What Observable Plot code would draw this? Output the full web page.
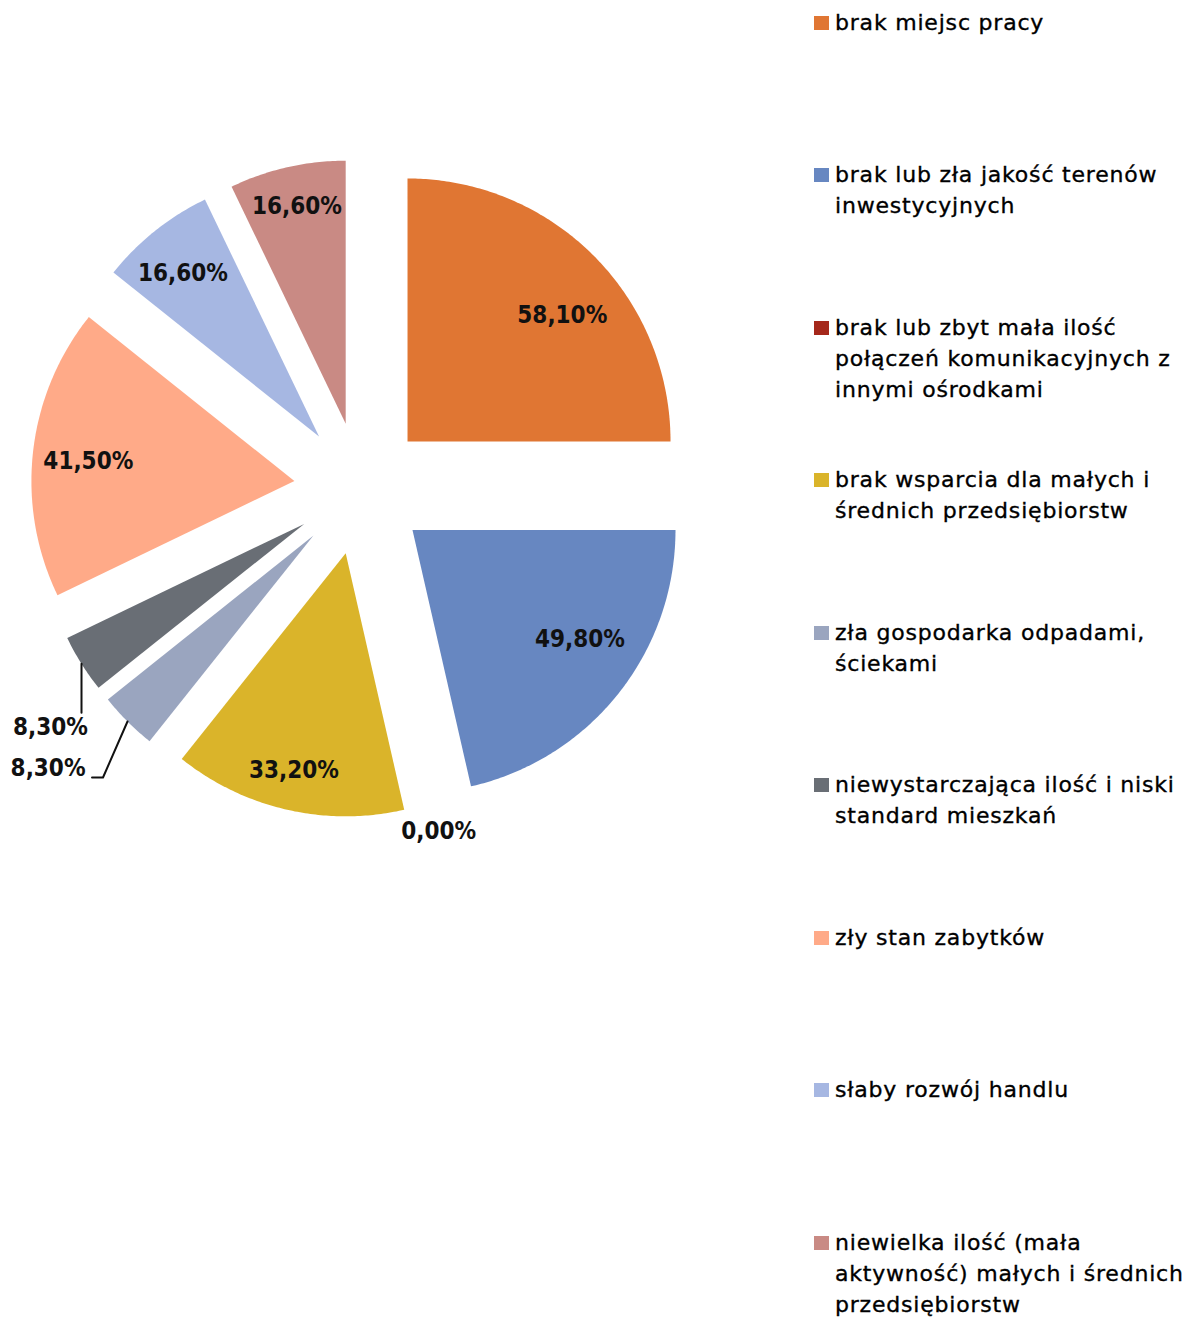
<!DOCTYPE html>
<html><head><meta charset="utf-8">
<script src="https://cdn.jsdelivr.net/npm/d3@7"></script>
<script src="https://cdn.jsdelivr.net/npm/@observablehq/plot@0.6"></script>
<style>
html,body{margin:0;padding:0;background:#fff;}
#wrap{position:relative;width:1192px;height:1320px;overflow:hidden;background:#fff;}
#chart{position:absolute;left:0;top:0;}
.legend-item{position:absolute;left:814px;width:378px;display:flex;align-items:flex-start;font-family:"DejaVu Sans",sans-serif;font-size:22px;line-height:31px;color:#000;letter-spacing:0.8px;-webkit-text-stroke:0.35px #000;}
.swatch{width:15px;height:14px;margin-top:9px;margin-right:6px;flex:none;}
.legend-text{width:357px;}
</style></head><body>
<div id="wrap"><div id="chart"></div><div id="legend"></div></div>
<script>
// ---- data ----
const categories = [
  "brak miejsc pracy",
  "brak lub zła jakość terenów inwestycyjnych",
  "brak lub zbyt mała ilość połączeń komunikacyjnych z innymi ośrodkami",
  "brak wsparcia dla małych i średnich przedsiębiorstw",
  "zła gospodarka odpadami, ściekami",
  "niewystarczająca ilość i niski standard mieszkań",
  "zły stan zabytków",
  "słaby rozwój handlu",
  "niewielka ilość (mała aktywność) małych i średnich przedsiębiorstw"
];
const values = [58.1, 49.8, 0.0, 33.2, 8.3, 8.3, 41.5, 16.6, 16.6];
const colors = ["#E07633", "#6787C1", "#A5281B", "#DAB42A", "#9AA5BF", "#696E75", "#FFAA88", "#A6B7E2", "#C98A84"];

// ---- layout ----
const W = 800, H = 1320;
const cx = 360, cy = 488, R = 263, explode = 66.5;
const insideLabelRadius = 0.8;   // fraction of R from slice apex
const zeroLabelGap = 22;         // outside-end label distance
// small "best fit" nudges for inside labels (pixels)
const labelNudge = {0: [6, 23], 1: [3, -22], 3: [-5, 12], 6: [3, 4], 7: [-5, 1], 8: [-2, -12]};
// leader layout for small slices (relative to outer arc midpoint)
const leaderLayout = {
  5: {path: [[0, 0], [0, 49]], label: [-31, 64], anchor: "middle"},
  4: {path: [[0, 0], [-24.5, 56], [-35.5, 56]], label: [-42, 47], anchor: "end"}
};

const table = categories.map((c, i) => ({key: c, value: values[i], i}));
const arcs = d3.pie().sort(null).value(d => d.value).startAngle(0).endAngle(2 * Math.PI)(table);

const slicePts = [];
const labels = [];
const leaders = [];
const fmt = v => d3.format(".2f")(v).replace(".", ",") + "%";

arcs.forEach(a => {
  const mid = (a.startAngle + a.endAngle) / 2;
  const ax = cx + explode * Math.sin(mid), ay = cy - explode * Math.cos(mid);
  const key = a.data.key;
  slicePts.push({key, x: ax, y: ay});
  const n = Math.max(2, Math.ceil((a.endAngle - a.startAngle) / 0.01));
  for (let k = 0; k <= n; k++) {
    const t = a.startAngle + (a.endAngle - a.startAngle) * k / n;
    slicePts.push({key, x: ax + R * Math.sin(t), y: ay - R * Math.cos(t)});
  }
  const ox = ax + R * Math.sin(mid), oy = ay - R * Math.cos(mid);
  const lay = leaderLayout[a.data.i];
  if (a.data.value === 0) {
    labels.push({text: fmt(a.data.value), x: ax + (R + zeroLabelGap) * Math.sin(mid), y: ay - (R + zeroLabelGap) * Math.cos(mid), anchor: "middle"});
  } else if (lay) {
    lay.path.forEach(([dx, dy]) => leaders.push({key, x: ox + dx, y: oy + dy}));
    labels.push({text: fmt(a.data.value), x: ox + lay.label[0], y: oy + lay.label[1], anchor: lay.anchor});
  } else {
    const r = R * insideLabelRadius;
    const [nx, ny] = labelNudge[a.data.i] || [0, 0];
    labels.push({text: fmt(a.data.value), x: ax + r * Math.sin(mid) + nx, y: ay - r * Math.cos(mid) + ny, anchor: "middle"});
  }
});

const chart = Plot.plot({
  width: W, height: H, margin: 0,
  x: {domain: [0, W], range: [0, W], axis: null},
  y: {domain: [0, H], range: [0, H], axis: null},
  color: {domain: categories, range: colors},
  style: {fontFamily: "'DejaVu Sans Condensed', 'DejaVu Sans', sans-serif", background: "#fff"},
  marks: [
    Plot.line(slicePts, {x: "x", y: "y", z: "key", fill: "key", stroke: null, curve: "linear-closed"}),
    Plot.line(leaders, {x: "x", y: "y", z: "key", stroke: "#111", strokeWidth: 2}),
    Plot.text(labels.filter(d => d.anchor === "middle"), {x: "x", y: "y", text: "text", textAnchor: "middle", fontSize: 24, fontWeight: "bold", fill: "#111"}),
    Plot.text(labels.filter(d => d.anchor === "end"), {x: "x", y: "y", text: "text", textAnchor: "end", fontSize: 24, fontWeight: "bold", fill: "#111"})
  ]
});
document.getElementById("chart").appendChild(chart);

// ---- legend ----
const legend = document.getElementById("legend");
const legendTop = 6.5, legendStep = 152.5;
categories.forEach((c, i) => {
  const item = document.createElement("div");
  item.className = "legend-item";
  item.style.top = (legendTop + i * legendStep) + "px";
  const sw = document.createElement("div");
  sw.className = "swatch";
  sw.style.background = colors[i];
  const tx = document.createElement("div");
  tx.className = "legend-text";
  tx.textContent = c;
  item.appendChild(sw);
  item.appendChild(tx);
  legend.appendChild(item);
});
</script>
</body></html>
